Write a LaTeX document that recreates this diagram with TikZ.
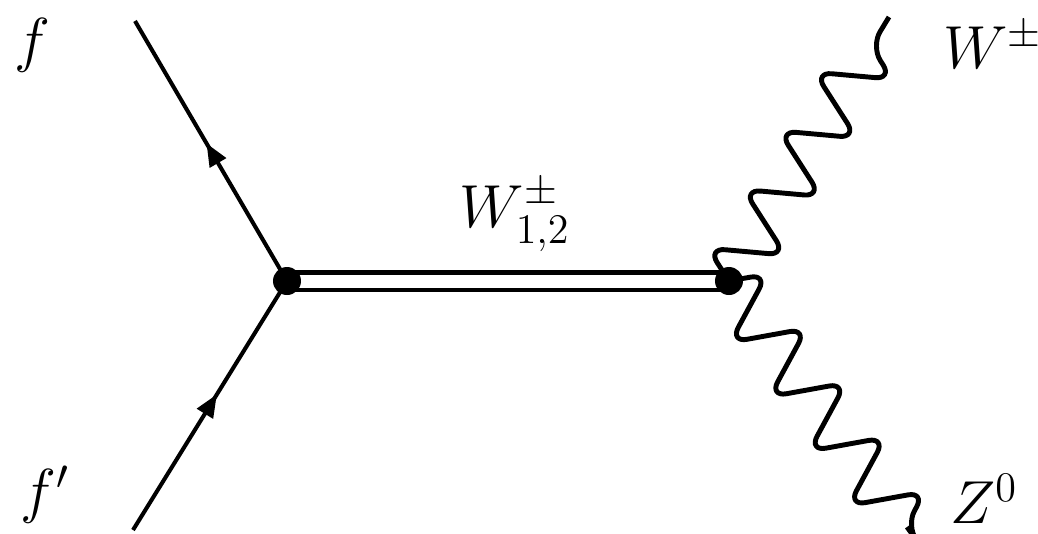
\documentclass[tikz,border=0pt]{standalone}
\usepackage{amsmath}
\usetikzlibrary{arrows.meta, decorations.pathmorphing, decorations.markings}
\tikzset{
  fermion/.style={line width=1.15pt, postaction={decorate},
    decoration={markings, mark=at position #1 with {\arrow{Triangle[length=6.5pt, width=5.2pt]}}}},
  fermion/.default=0.53,
  boson/.style={line width=1.4pt, decorate, rounded corners=0.17cm,
    decoration={zigzag, segment length=#1, amplitude=0.35cm}},
  heavy/.style={line width=1.15pt, double, double distance=0.13cm},
  vertex/.style={circle, fill=black, inner sep=0pt, minimum size=0.28cm},
  lbl/.style={font=\LARGE},
}

\begin{document}
\begin{tikzpicture}
  \useasboundingbox (0,0) rectangle (10.38,5.33);
  % ---------------- vertices and external legs
  \coordinate (v1) at (2.87,2.52);
  \coordinate (v2) at (7.29,2.52);
  \coordinate (fo) at (1.35,5.12);
  \coordinate (fi) at (1.33,0.03);
  \coordinate (wo) at (8.89,5.16);
  \coordinate (zo) at (9.07,0.06);
  % ---------------- fermions in, heavy W' propagator, bosons out
  \draw[fermion=0.53] (v1) -- (fo);
  \draw[fermion=0.545] (fi) -- (v1);
  \draw[heavy] (v1) -- (v2);
  \draw[boson=0.686cm] (v2) -- (wo);
  \draw[boson=0.672cm] (v2) -- (zo);
  \node[vertex] (d1) at (v1) {};
  \node[vertex] (d2) at (v2) {};
  % ---------------- labels
  \node[lbl] (lf) at (0.32,4.88) {$f$};
  \node[lbl] (lfp) at (0.45,0.38) {$f'$};
  \node[lbl] (lwh) at (5.15,3.18) {$W^{\pm}_{1,2}$};
  \node[lbl] (lw) at (9.93,4.88) {$W^{\pm}$};
  \node[lbl] (lz) at (9.84,0.34) {$Z^{0}$};
\end{tikzpicture}
\end{document}
